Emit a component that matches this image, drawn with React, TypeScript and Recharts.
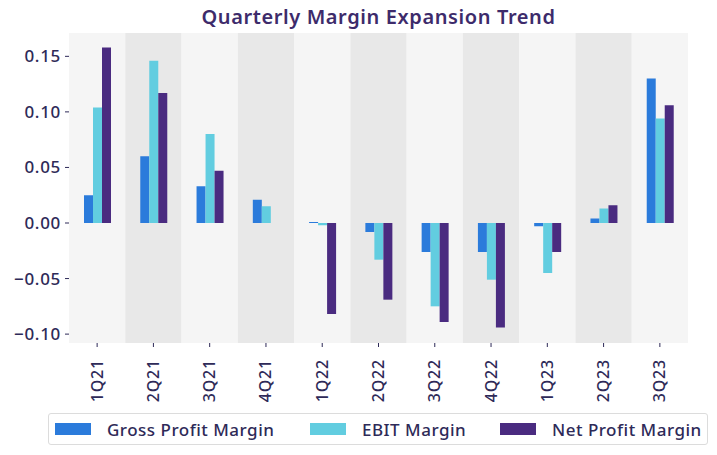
import React from "react";
import { BarChart, Bar, XAxis, YAxis, ReferenceArea } from "recharts";

const categories = ["1Q21", "2Q21", "3Q21", "4Q21", "1Q22", "2Q22", "3Q22", "4Q22", "1Q23", "2Q23", "3Q23"];
const grossProfitMargin = [0.025, 0.060, 0.033, 0.021, 0.001, -0.008, -0.026, -0.026, -0.003, 0.004, 0.130];
const ebitMargin = [0.104, 0.146, 0.080, 0.015, -0.002, -0.033, -0.075, -0.051, -0.045, 0.013, 0.094];
const netProfitMargin = [0.158, 0.117, 0.047, 0.0, -0.082, -0.069, -0.089, -0.094, -0.026, 0.016, 0.106];
const yTicks = [-0.1, -0.05, 0, 0.05, 0.1, 0.15];

const seriesNames = ["Gross Profit Margin", "EBIT Margin", "Net Profit Margin"];
const seriesColors = ["#2b7bdb", "#62cde0", "#4a2b80"];

const data = categories.map((c, i) => ({
  quarter: c,
  gross: grossProfitMargin[i],
  ebit: ebitMargin[i],
  net: netProfitMargin[i],
}));

const FONT = "'Noto Sans', 'Open Sans', sans-serif";
const TEXT = "#2e2a58";

const fmt = (v: number) => {
  const s = Math.abs(v).toFixed(2);
  return v < -1e-9 ? "\u2212" + s : s;
};

const XTick = (props: any) => {
  const { x, y, payload } = props;
  return (
    <text
      x={x}
      y={y}
      transform={`rotate(-90 ${x} ${y})`}
      dx={-10}
      dy={5.5}
      textAnchor="end"
      fill={TEXT}
      fontSize={16}
      fontWeight={500}
      fontFamily={FONT}
      letterSpacing={0.8}
    >
      {payload.value}
    </text>
  );
};

const YTick = (props: any) => {
  const { x, y, payload } = props;
  return (
    <text
      x={x}
      y={y}
      dx={-2}
      dy={6}
      textAnchor="end"
      fill={TEXT}
      fontSize={17}
      fontWeight={500}
      fontFamily={FONT}
      letterSpacing={0.7}
    >
      {fmt(payload.value)}
    </text>
  );
};

export default function App() {
  return (
    <div style={{ position: "absolute", left: 0, top: 0, width: 717, height: 455, background: "#fff", fontFamily: FONT }}>
      <div
        style={{
          position: "absolute",
          left: 0,
          top: 3,
          width: 757,
          textAlign: "center",
          fontSize: 20,
          fontWeight: 600,
          color: "#3d2b6b",
          fontFamily: FONT,
          letterSpacing: 0.6,
        }}
      >
        Quarterly Margin Expansion Trend
      </div>
      <BarChart
        width={717}
        height={455}
        data={data}
        margin={{ top: 33, right: 29, left: 0, bottom: 52 }}
        barSize={9}
        barGap={0}
      >
        {categories.map((c, i) => (
          <ReferenceArea
            key={c}
            x1={c}
            x2={c}
            y1={-0.108}
            y2={0.171}
            fill={i % 2 === 0 ? "#f5f5f5" : "#e8e8e8"}
            fillOpacity={1}
            stroke="none"
          />
        ))}
        <XAxis
          dataKey="quarter"
          axisLine={false}
          tickLine={{ stroke: TEXT }}
          tickSize={4}
          height={60}
          interval={0}
          tick={<XTick />}
        />
        <YAxis
          width={69}
          domain={[-0.108, 0.171]}
          ticks={yTicks}
          allowDataOverflow
          axisLine={false}
          tickLine={{ stroke: TEXT }}
          tickSize={4}
          tick={<YTick />}
        />
        <Bar dataKey="gross" name={seriesNames[0]} fill={seriesColors[0]} isAnimationActive={false} />
        <Bar dataKey="ebit" name={seriesNames[1]} fill={seriesColors[1]} isAnimationActive={false} />
        <Bar dataKey="net" name={seriesNames[2]} fill={seriesColors[2]} isAnimationActive={false} />
      </BarChart>
      <div
        style={{
          position: "absolute",
          left: 48,
          top: 413,
          width: 658,
          height: 30,
          border: "1px solid #dcdcdc",
          borderRadius: 3,
          boxSizing: "content-box",
        }}
      >
        {seriesNames.map((n, i) => (
          <div
            key={n}
            style={{
              position: "absolute",
              left: [6, 261, 451][i],
              top: 0,
              height: 30,
              display: "flex",
              alignItems: "center",
              whiteSpace: "nowrap",
            }}
          >
            <span style={{ display: "inline-block", width: 36, height: 12, background: seriesColors[i], marginRight: 16 }} />
            <span style={{ fontSize: 17, fontWeight: 500, color: TEXT, fontFamily: FONT, letterSpacing: 0.5 }}>{n}</span>
          </div>
        ))}
      </div>
    </div>
  );
}
